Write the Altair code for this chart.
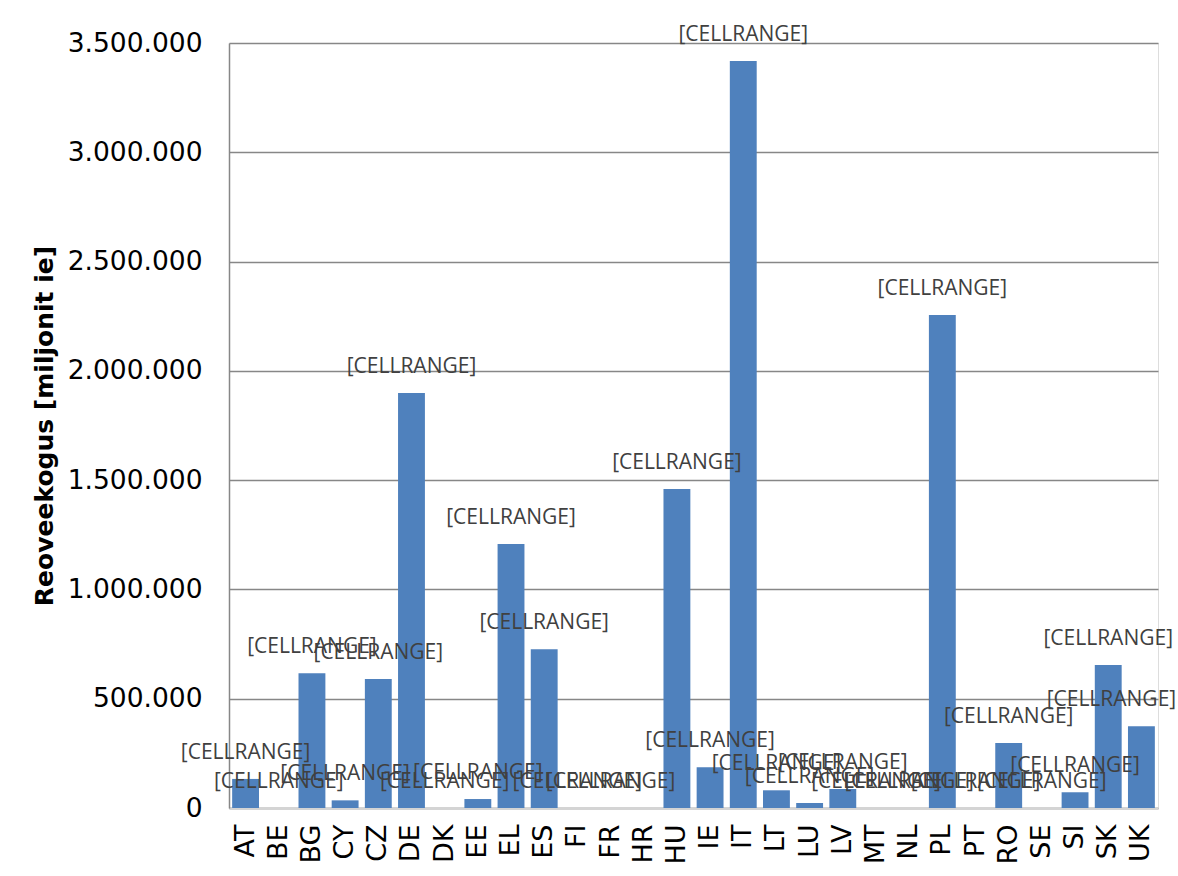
import altair as alt
import pandas as pd

# Wastewater volume per member state
countries = ["AT", "BE", "BG", "CY", "CZ", "DE", "DK", "EE", "EL", "ES",
             "FI", "FR", "HR", "HU", "IE", "IT", "LT", "LU", "LV", "MT",
             "NL", "PL", "PT", "RO", "SE", "SI", "SK", "UK"]
volumes = [133000, 0, 616000, 35000, 590000, 1899000, 0, 41000, 1208000, 726000,
           0, 0, None, 1459000, 186000, 3418000, 81000, 23000, 87000, 0,
           0, 2256000, 0, 297000, 0, 72000, 654000, 374000]
labels = ["[CELLRANGE]"] * len(countries)

y_ticks = [0, 500000, 1000000, 1500000, 2000000, 2500000, 3000000, 3500000]

df = pd.DataFrame({"riik": countries, "kogus": volumes, "silt": labels})

x_enc = alt.X(
    "riik:N",
    sort=countries,
    title=None,
    scale=alt.Scale(paddingInner=0.19, paddingOuter=0.095),
    axis=alt.Axis(
        labelAngle=-90,
        labelAlign="right",
        labelBaseline="middle",
        labelFont="DejaVu Sans",
        labelFontSize=27,
        labelColor="#000000",
        labelPadding=16,
        ticks=False,
        domainColor="#d4d4d4",
        domainWidth=3,
        grid=False,
    ),
)

y_scale = alt.Scale(domain=[0, 3500000], nice=False)

bars = alt.Chart(df).mark_bar(color="#4F81BD").encode(
    x=x_enc,
    y=alt.Y(
        "kogus:Q",
        scale=y_scale,
        title="Reoveekogus [miljonit ie]",
        axis=alt.Axis(
            values=y_ticks,
            labelExpr="replace(format(datum.value, ','), regexp(',', 'g'), '.')",
            labelFont="DejaVu Sans",
            labelFontSize=26.5,
            labelColor="#000000",
            labelPadding=27,
            ticks=False,
            domainColor="#878787",
            domainWidth=1.5,
            gridColor="#878787",
            gridWidth=1.5,
            titleFont="DejaVu Sans",
            titleFontSize=25,
            titleFontWeight="bold",
            titleColor="#000000",
            titlePadding=10,
        ),
    ),
)

label_style = dict(
    font="Open Sans",
    fontSize=21,
    color="#404040",
    baseline="middle",
    align="center",
    dy=-26,
)

text_main = (
    alt.Chart(df)
    .transform_filter("isValid(datum.kogus) && datum.riik != 'UK'")
    .mark_text(**label_style)
    .encode(
        x=alt.X("riik:N", sort=countries),
        y=alt.Y("kogus:Q", scale=y_scale),
        text="silt:N",
    )
)

# the last label is pulled left so it stays inside the chart area
text_last = (
    alt.Chart(df)
    .transform_filter("datum.riik == 'UK'")
    .mark_text(**{**label_style, "dx": -30})
    .encode(
        x=alt.X("riik:N", sort=countries),
        y=alt.Y("kogus:Q", scale=y_scale),
        text="silt:N",
    )
)

chart = (
    alt.layer(bars, text_main, text_last)
    .properties(
        width=929,
        height=765,
        autosize=alt.AutoSizeParams(type="none"),
        padding={"left": 229, "top": 43, "right": 20, "bottom": 68},
    )
    .configure_view(stroke="#878787", strokeWidth=1.5)
    .configure(background="#ffffff")
)

chart.save("out.html", embed_options={"renderer": "svg", "actions": False})
